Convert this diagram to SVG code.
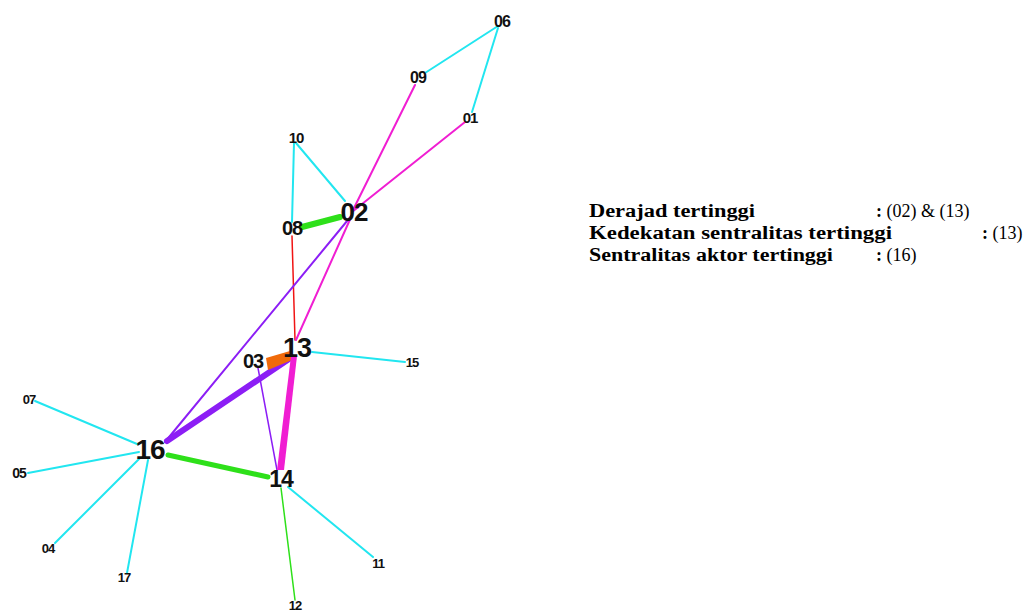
<svg xmlns="http://www.w3.org/2000/svg" width="1025" height="612" viewBox="0 0 1025 612">
<style>
.e{fill:none;stroke-linecap:round}
.c{stroke:#22e6f0;stroke-width:2}
.m{stroke:#f01ed2;stroke-width:2}
.p{stroke:#8c1ef5;stroke-width:2}
.g{stroke:#2ee01a}
.r{stroke:#f01414;stroke-width:1.5}
.n text{font-family:"Liberation Sans",Arial,sans-serif;font-weight:bold;fill:#111;text-anchor:middle;dominant-baseline:central;letter-spacing:-1px}
.lg text{font-family:"Liberation Serif","DejaVu Serif",serif;font-size:18px;fill:#000}
.b{font-weight:bold}
</style>
<rect width="1025" height="612" fill="#fff"/>
<g id="edges">
<line class="e c" x1="498" y1="26" x2="425" y2="73"/>
<line class="e c" x1="498" y1="28" x2="472" y2="112"/>
<line class="e m" x1="415" y1="85" x2="352" y2="212"/>
<line class="e m" x1="465" y1="122" x2="352" y2="212"/>
<line class="e c" x1="296" y1="143" x2="345" y2="201"/>
<line class="e c" x1="294" y1="143" x2="292" y2="222"/>
<line class="e g" style="stroke-width:6" x1="302" y1="227" x2="340" y2="217"/>
<line class="e r" x1="292" y1="236" x2="295" y2="340"/>
<line class="e m" x1="352" y1="215" x2="296" y2="340"/>
<line class="e p" x1="352" y1="215" x2="165" y2="442"/>
<line class="e p" style="stroke-width:6" x1="289" y1="359" x2="167" y2="441"/>
<line class="e p" style="stroke-width:1.5" x1="258" y1="368" x2="277" y2="470"/>
<polygon points="266,358 290,351 292,360 268,370" fill="#f06a0a"/>
<polygon points="291,356 297,356 284,470 277,470" fill="#f01ed2"/>
<line class="e g" style="stroke-width:5" x1="168" y1="455" x2="268" y2="477"/>
<line class="e g" style="stroke-width:1.5" x1="281" y1="488" x2="295" y2="600"/>
<line class="e c" x1="288" y1="487" x2="373" y2="557"/>
<line class="e c" x1="312" y1="352" x2="405" y2="362"/>
<line class="e c" x1="35" y1="401" x2="137" y2="444"/>
<line class="e c" x1="28" y1="473" x2="139" y2="452"/>
<line class="e c" x1="55" y1="543" x2="140" y2="458"/>
<line class="e c" x1="127" y1="573" x2="148" y2="460"/>
</g>
<g class="n">
<g id="n06"><text x="502" y="21" font-size="16">06</text></g>
<g id="n09"><text x="418" y="77" font-size="16">09</text></g>
<g id="n01"><text x="470" y="117" font-size="15">01</text></g>
<g id="n10"><text x="296" y="137" font-size="15">10</text></g>
<g id="n02"><text x="354" y="212" font-size="26">02</text></g>
<g id="n08"><text x="292" y="228" font-size="20">08</text></g>
<g id="n13"><text x="297" y="348" font-size="27">13</text></g>
<g id="n03"><text x="253" y="361" font-size="20">03</text></g>
<g id="n15"><text x="412" y="362" font-size="13">15</text></g>
<g id="n07"><text x="29" y="399" font-size="13">07</text></g>
<g id="n16"><text x="150" y="449" font-size="28">16</text></g>
<g id="n05"><text x="19" y="473" font-size="14">05</text></g>
<g id="n14"><text x="281" y="479" font-size="23">14</text></g>
<g id="n04"><text x="48" y="548" font-size="13">04</text></g>
<g id="n17"><text x="124" y="577" font-size="13">17</text></g>
<g id="n11"><text x="378" y="563" font-size="13">11</text></g>
<g id="n12"><text x="295" y="605" font-size="13">12</text></g>
</g>
<g id="legend" class="lg">
<text x="589" y="217" class="b" textLength="166" lengthAdjust="spacingAndGlyphs">Derajad tertinggi</text>
<text x="876" y="217"><tspan class="b">:</tspan> (02) &amp; (13)</text>
<text x="589" y="239" class="b" textLength="303" lengthAdjust="spacingAndGlyphs">Kedekatan sentralitas tertinggi</text>
<text x="982" y="239"><tspan class="b">:</tspan> (13)</text>
<text x="589" y="261" class="b" textLength="244" lengthAdjust="spacingAndGlyphs">Sentralitas aktor tertinggi</text>
<text x="876" y="261"><tspan class="b">:</tspan> (16)</text>
</g>
</svg>
